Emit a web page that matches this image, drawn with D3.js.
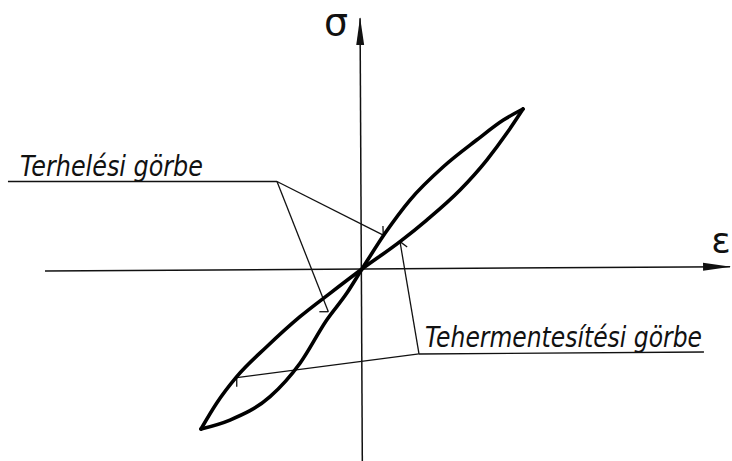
<!DOCTYPE html>
<html>
<head>
<meta charset="utf-8">
<script src="https://cdn.jsdelivr.net/npm/d3@7"></script>
<style>
  body { margin: 0; background: #fff; }
  svg { display: block; }
  .lettering { font-family: "DejaVu Sans Condensed", "DejaVu Sans", sans-serif; font-style: italic; fill: #111; }
  .symbol { font-family: "DejaVu Sans", sans-serif; fill: #111; }
</style>
</head>
<body>
<div id="chart"></div>
<script>
// Hysteresis loop, [strain, stress] in relative units (tip = 1)
const loadingCurve = [
    [-1, -1], [-0.82, -0.944], [-0.571, -0.798], [-0.385, -0.589], [-0.219, -0.319],
    [-0.095, -0.152], [0, 0], [0.143, 0.223], [0.298, 0.431], [0.505, 0.639],
    [0.712, 0.806], [0.878, 0.931], [1, 1]
];
const unloadingCurve = [
    [1, 1], [0.899, 0.848], [0.775, 0.681], [0.609, 0.494], [0.402, 0.306],
    [0.236, 0.171], [0, 0], [-0.199, -0.152], [-0.385, -0.298], [-0.592, -0.486],
    [-0.778, -0.673], [-0.903, -0.839], [-1, -1]
];

// Axes (start, end)
const strainAxis = [[-1.969, -0.0125], [2.286, 0.0144]];
const stressAxis = [[0.002, -1.2], [-0.012, 1.567]];
const axisLabels = ['σ', 'ε'];

// Callout labels: underline, corner, and the points the leaders point at
const labelTexts = ['Terhelési görbe', 'Tehermentesítési görbe'];
const underlines = [
    [[-2.199, 0.547], [-0.528, 0.547]],
    [[0.354, -0.531], [2.124, -0.519]]
];
const corners = [[-0.528, 0.547], [0.354, -0.531]];
const leaderTargets = [
    [[0.132, 0.212], [-0.209, -0.267]],
    [[0.236, 0.171], [-0.778, -0.679]]
];
const barbAngles = [[-92, 180], [37, 90]];

const width = 732, height = 461;

const svg = d3.select('#chart')
    .append('svg')
    .attr('width', width)
    .attr('height', height);

const xScale = d3.scaleLinear().domain([-1, 1]).range([201, 523]);
const yScale = d3.scaleLinear().domain([-1, 1]).range([429, 109]);

const line = d3.line()
    .x(d => xScale(d[0]))
    .y(d => yScale(d[1]));

// arrow head for the axes
svg.append('defs').append('marker')
    .attr('id', 'arrow')
    .attr('markerUnits', 'userSpaceOnUse')
    .attr('viewBox', '0 -5 28 10')
    .attr('refX', 27)
    .attr('refY', 0)
    .attr('markerWidth', 28)
    .attr('markerHeight', 10)
    .attr('orient', 'auto')
    .append('path')
    .attr('d', 'M0,-4L28,0L0,4Z')
    .attr('fill', '#111');

// axes
[strainAxis, stressAxis].forEach(ax => {
    svg.append('path')
        .attr('d', line(ax))
        .attr('fill', 'none')
        .attr('stroke', '#111')
        .attr('stroke-width', 1.5)
        .attr('marker-end', 'url(#arrow)');
});

// axis letters
const sigmaEnd = stressAxis[1];
svg.append('text')
    .attr('class', 'symbol')
    .attr('x', xScale(sigmaEnd[0]) - 24)
    .attr('y', yScale(sigmaEnd[1]) + 17)
    .attr('text-anchor', 'middle')
    .attr('font-size', 38)
    .text(axisLabels[0]);

const epsEnd = strainAxis[1];
svg.append('text')
    .attr('class', 'symbol')
    .attr('x', xScale(epsEnd[0]) - 9)
    .attr('y', yScale(epsEnd[1]) - 14)
    .attr('text-anchor', 'middle')
    .attr('font-size', 36)
    .text(axisLabels[1]);

// leader lines and underlines
labelTexts.forEach((label, i) => {
    svg.append('path')
        .attr('d', line(underlines[i]))
        .attr('fill', 'none')
        .attr('stroke', '#111')
        .attr('stroke-width', 1.4);

    leaderTargets[i].forEach((target, j) => {
        svg.append('path')
            .attr('d', line([corners[i], target]))
            .attr('fill', 'none')
            .attr('stroke', '#111')
            .attr('stroke-width', 1.3);

        // small half arrow barb at the end of the leader
        const a = barbAngles[i][j] * Math.PI / 180;
        const tx = xScale(target[0]), ty = yScale(target[1]);
        svg.append('line')
            .attr('x1', tx)
            .attr('y1', ty)
            .attr('x2', tx + 9 * Math.cos(a))
            .attr('y2', ty + 9 * Math.sin(a))
            .attr('stroke', '#111')
            .attr('stroke-width', 1.3);
    });
});

// label text sits on its underline (slightly stretched upward like stencil lettering)
const labelOffsets = [[12, -5], [6, -7]];
const labelWidths = [183, 277];
labelTexts.forEach((label, i) => {
    const start = underlines[i][0];
    const x = xScale(start[0]) + labelOffsets[i][0];
    const y = yScale(start[1]) + labelOffsets[i][1];
    svg.append('text')
        .attr('class', 'lettering')
        .attr('transform', `translate(${x},${y}) scale(1,1.15)`)
        .attr('font-size', 25)
        .attr('textLength', labelWidths[i])
        .attr('lengthAdjust', 'spacingAndGlyphs')
        .text(label);
});

// the loop
const curve = d3.line()
    .x(d => xScale(d[0]))
    .y(d => yScale(d[1]))
    .curve(d3.curveMonotoneX);

[loadingCurve, unloadingCurve].forEach(branch => {
    svg.append('path')
        .attr('d', curve(branch))
        .attr('fill', 'none')
        .attr('stroke', '#000')
        .attr('stroke-width', 3.6)
        .attr('stroke-linecap', 'round');
});
</script>
</body>
</html>
